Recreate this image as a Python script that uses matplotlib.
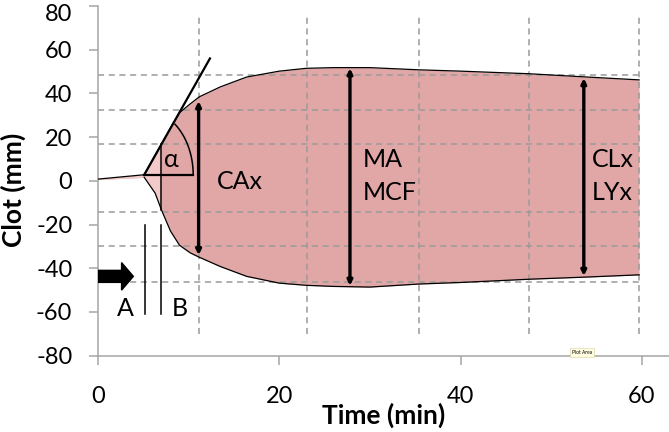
import matplotlib.pyplot as plt
import matplotlib.transforms as mtransforms
import numpy as np

plt.rcParams['font.family'] = ['Lato', 'DejaVu Sans']
plt.rcParams['axes.unicode_minus'] = False

# clot envelope (min, mm)
time = [0, 5.1, 6.3, 7.0, 8.0, 9.0, 10.2, 11.2, 13.5, 16.4, 20, 23, 26, 30, 35.4, 40, 47.6, 54, 59.7]
upper = [0.8, 2.8, 11.6, 16.8, 24.2, 31.2, 35.3, 38.5, 43.0, 47.5, 50.2, 51.5, 51.8, 51.8, 50.8, 50.2, 49.0, 47.5, 46.2]
lower = [0.6, 1.6, -5.6, -13.3, -23.0, -29.5, -33.0, -35.0, -39.2, -43.7, -46.8, -47.8, -48.3, -48.6, -47.2, -46.5, -45.0, -44.0, -43.0]

# reference grid lines
vgrid = [11.1, 23.1, 35.4, 47.6, 59.7]
hgrid = [48.5, 32.2, 16.9, -14.2, -29.7, -46.1]

# amplitude arrows
amp_x = [11.1, 27.8, 53.6]
amp_top = [36.5, 51.5, 47.0]
amp_bot = [-34.0, -48.0, -43.5]

t = np.array(time)
up = np.array(upper)
lo = np.array(lower)

fig = plt.figure(figsize=(6.69, 4.32), dpi=100)
ax = fig.add_axes([0.1465, 0.1766, 0.8535, 0.8095])

main_col = '#E0A7A6'
light_col = '#F2CACA'
ax.fill_between(t, lo, up, color=main_col, lw=0, zorder=1)
m = t <= 7.0
ax.fill_between(t[m], lo[m], up[m], color=light_col, lw=0, zorder=1)
ax.plot(t, up, color='k', lw=0.9, zorder=4)
ax.plot(t[1:], lo[1:], color='k', lw=0.9, zorder=4)

for x in vgrid:
    ax.plot([x, x], [-70, 76], color='#9A9A9A', lw=1.1, ls=(0, (4, 3)), zorder=2)
for y in hgrid:
    ax.plot([0, 59.7], [y, y], color='#9A9A9A', lw=1.1, ls=(0, (4, 3)), zorder=2)

# alpha angle: tangent, base and arc
x0, y0 = time[1], upper[1]
ax.plot([x0, 12.35], [y0, 56], color='k', lw=1.6, zorder=5)
ax.plot([x0, 10.5], [y0, y0], color='k', lw=1.6, zorder=5)
th = np.linspace(0, np.radians(51), 40)
ax.plot(x0 + 5.4 * np.cos(th), y0 + 29.7 * np.sin(th), color='k', lw=1.1, zorder=5)
ax.text(8.1, 10, 'α', fontsize=18, ha='center', va='center', zorder=6)

# A / B markers
ax.plot([5.2, 5.2], [-20, -61], color='k', lw=1.1)
ax.plot([7.0, 7.0], [-20, -61], color='k', lw=1.1)
ax.plot([7.0, 7.0], [lower[3], upper[3]], color='k', lw=1.1, zorder=5)
ax.text(3.0, -58.5, 'A', fontsize=18, ha='center', va='center')
ax.text(9.0, -58.5, 'B', fontsize=18, ha='center', va='center')
ax.arrow(0, -43.7, 3.9, 0, width=5.5, head_width=12.6, head_length=1.3,
         length_includes_head=True, color='k', zorder=6)

for x, yt, yb in zip(amp_x, amp_top, amp_bot):
    ax.annotate('', xy=(x, yt), xytext=(x, yb),
                arrowprops=dict(arrowstyle='<|-|>', lw=2.4, color='k',
                                mutation_scale=7, shrinkA=0, shrinkB=0),
                zorder=6)

ax.text(13.1, -0.3, 'CAx', fontsize=18, ha='left', va='center', zorder=6)
ax.text(29.2, 9.6, 'MA', fontsize=18, ha='left', va='center', zorder=6)
ax.text(29.2, -5.5, 'MCF', fontsize=18, ha='left', va='center', zorder=6)
ax.text(54.5, 9.6, 'CLx', fontsize=18, ha='left', va='center', zorder=6)
ax.text(54.5, -5.5, 'LYx', fontsize=18, ha='left', va='center', zorder=6)

ax.text(53.4, -78.4, 'Plot Area', fontsize=3.5, ha='center', va='center', zorder=7,
        bbox=dict(boxstyle='square,pad=0.4', fc='#FFFDE0', ec='#D8D2A0', lw=0.4))

ax.set_xlim(0, 63)
ax.set_ylim(-80, 80)
ax.set_xticks([0, 20, 40, 60])
ax.set_yticks(range(-80, 81, 20))
for s in ['top', 'right']:
    ax.spines[s].set_visible(False)
for s in ['left', 'bottom']:
    ax.spines[s].set_color('#A6A6A6')
    ax.spines[s].set_linewidth(1.1)
ax.tick_params(axis='both', colors='#A6A6A6', length=6.5, width=1.1, labelsize=17,
               labelcolor='k')
ax.tick_params(axis='y', pad=12)
ax.tick_params(axis='x', pad=15)

# the top label sits a little lower, as in the original
fig.canvas.draw()
top_lbl = ax.get_yticklabels()[-1]
top_lbl.set_transform(top_lbl.get_transform() +
                      mtransforms.ScaledTranslation(0, -6 / 100, fig.dpi_scale_trans))

ax.set_xlabel('Time (min)', fontsize=19, fontweight='bold', labelpad=-2.5)
ax.set_ylabel('Clot (mm)', fontsize=19, fontweight='bold')
ax.yaxis.set_label_coords(-0.126, 0.475)

fig.savefig('out.png', dpi=100)
